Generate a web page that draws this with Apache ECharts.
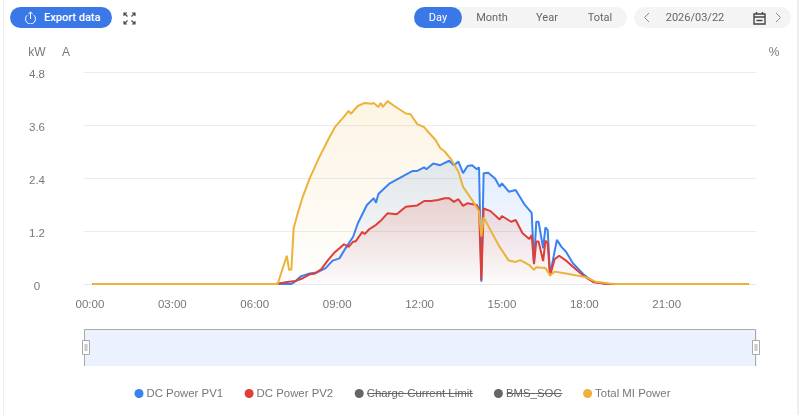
<!DOCTYPE html>
<html>
<head>
<meta charset="utf-8">
<title>Daily power</title>
<script src="https://cdn.jsdelivr.net/npm/echarts@6/dist/echarts.min.js"></script>
<style>
  html, body { margin: 0; padding: 0; background: #fff; }
  #page { position: relative; width: 800px; height: 415px; overflow: hidden; font-family: Roboto, sans-serif; }
  #chart { position: absolute; left: 0; top: 0; width: 800px; height: 415px; }
  .edge { position: absolute; top: 0; bottom: 0; background: #efefef; }
  .pill { position: absolute; top: 7px; height: 21px; line-height: 21px; border-radius: 11px; font-size: 11px; text-align: center; color: #666; }
  .bg { background: #f4f4f4; }
  .blue { background: #3b78e7; color: #fff; }
  .t { position: absolute; top: 7px; height: 21px; line-height: 21px; font-size: 11px; color: #666; text-align: center; }
  svg { position: absolute; }
</style>
</head>
<body>
<div id="page">
  <div id="chart"></div>
  <div class="edge" style="left:3px;width:1px"></div>
  <div class="edge" style="left:797px;width:2px"></div>

  <div class="pill blue" style="left:10px;width:102px;text-align:left;padding-left:34px;box-sizing:border-box;font-weight:500">Export data</div>
  <svg style="left:24px;top:11px" width="13" height="13" viewBox="0 0 13 13" fill="none" stroke="#fff" stroke-width="1">
    <path d="M6.5 8V1M4.3 3.2 6.5 1l2.2 2.2M3.2 4.2a5 5 0 1 0 6.6 0"/>
  </svg>
  <svg style="left:122px;top:11px" width="15" height="15" viewBox="0 0 15 15" fill="none" stroke="#444" stroke-width="1.1">
    <path d="M2 5V2h3M2 2l3.5 3.5M13 5V2h-3M13 2 9.5 5.5M2 10v3h3M2 13l3.5-3.5M13 10v3h-3M13 13 9.5 9.5"/>
  </svg>

  <div class="pill bg" style="left:414px;width:213px"></div>
  <div class="pill blue" style="left:414px;width:48px">Day</div>
  <div class="t" style="left:468px;width:48px">Month</div>
  <div class="t" style="left:523px;width:48px">Year</div>
  <div class="t" style="left:576px;width:48px">Total</div>

  <div class="pill bg" style="left:634px;width:157px"></div>
  <svg style="left:643px;top:12px" width="7" height="11" viewBox="0 0 7 11" fill="none" stroke="#888" stroke-width="1"><path d="M6 1 1.5 5.5 6 10"/></svg>
  <div class="t" style="left:660px;width:70px">2026/03/22</div>
  <svg style="left:753px;top:11px" width="13" height="14" viewBox="0 0 13 14" fill="none" stroke="#444" stroke-width="1.4">
    <path d="M1 3h11v10H1zM1 6h11M3.5 1v2M9.5 1v2M3.5 9.5h6"/>
  </svg>
  <svg style="left:775px;top:12px" width="7" height="11" viewBox="0 0 7 11" fill="none" stroke="#888" stroke-width="1"><path d="M1 1l4.5 4.5L1 10"/></svg>
</div>
<script>
  // minutes since midnight, kW
  var pv1Times = [5, 440, 445, 460, 480, 495, 515, 530, 545, 560, 575, 585, 605, 620, 625, 630, 655, 675, 705, 715, 730, 735, 750, 765, 785, 795, 805, 815, 825, 835, 845, 850, 855, 860, 870, 885, 895, 900, 915, 930, 950, 965, 970, 975, 980, 990, 995, 1000, 1005, 1020, 1030, 1040, 1055, 1080, 1100, 1115, 1130, 1439];
  var pv1Values = [0, 0, 0.03, 0.17, 0.24, 0.26, 0.36, 0.53, 0.58, 0.84, 1.07, 1.37, 1.79, 1.94, 1.84, 2.04, 2.28, 2.39, 2.56, 2.56, 2.64, 2.60, 2.73, 2.69, 2.79, 2.69, 2.77, 2.51, 2.67, 2.69, 2.60, 2.64, 0.05, 2.51, 2.52, 2.39, 2.20, 2.28, 2.09, 2.13, 1.79, 1.61, 0.47, 1.41, 1.41, 0.81, 1.28, 1.22, 0.20, 1.00, 0.84, 0.73, 0.47, 0.20, 0.05, 0.02, 0, 0];

  var pv2Times = [5, 405, 435, 450, 465, 480, 490, 505, 520, 535, 555, 565, 575, 580, 595, 600, 610, 625, 635, 650, 670, 690, 715, 730, 745, 760, 775, 785, 795, 805, 815, 825, 845, 850, 855, 860, 875, 895, 900, 920, 930, 945, 960, 965, 970, 975, 980, 990, 995, 1000, 1005, 1015, 1025, 1040, 1055, 1080, 1100, 1115, 1130, 1439];
  var pv2Values = [0, 0, 0.05, 0.07, 0.13, 0.22, 0.23, 0.33, 0.54, 0.72, 0.90, 0.84, 0.96, 0.96, 1.18, 1.13, 1.24, 1.34, 1.43, 1.60, 1.58, 1.75, 1.78, 1.88, 1.88, 1.90, 1.94, 1.94, 1.86, 1.92, 1.77, 1.83, 1.79, 1.68, 0.09, 1.71, 1.65, 1.46, 1.54, 1.41, 1.45, 1.15, 1.02, 1.11, 0.45, 0.96, 0.96, 0.52, 0.98, 0.92, 0.18, 0.56, 0.64, 0.53, 0.39, 0.17, 0.04, 0.02, 0, 0];

  var miTimes = [5, 410, 430, 435, 440, 445, 455, 465, 480, 500, 520, 535, 555, 565, 570, 585, 600, 615, 620, 630, 635, 640, 650, 665, 690, 700, 715, 730, 740, 755, 765, 775, 790, 805, 815, 835, 850, 855, 860, 875, 895, 915, 930, 940, 960, 970, 975, 995, 1005, 1015, 1040, 1085, 1105, 1135, 1150, 1439];
  var miValues = [0, 0, 0.64, 0.32, 0.32, 1.26, 1.64, 1.98, 2.39, 2.85, 3.26, 3.55, 3.79, 3.92, 3.85, 4.03, 4.10, 4.08, 4.10, 4.01, 4.10, 4.01, 4.14, 4.03, 3.86, 3.85, 3.62, 3.55, 3.43, 3.26, 3.08, 3.00, 2.81, 2.54, 2.20, 1.90, 1.64, 1.07, 1.51, 1.22, 0.84, 0.53, 0.50, 0.54, 0.43, 0.32, 0.38, 0.36, 0.20, 0.28, 0.24, 0.15, 0.05, 0.01, 0, 0];

  var legendNames = ["DC Power PV1", "DC Power PV2", "Charge Current Limit", "BMS_SOC", "Total MI Power"];
  var tickMinutes = [0, 180, 360, 540, 720, 900, 1080, 1260];
  var powerTicks = [0, 1.2, 2.4, 3.6, 4.8];

  function pairs(times, values) {
    return times.map(function (t, i) { return [t, values[i]]; });
  }

  function fmtTime(m) {
    var h = Math.floor(m / 60), mm = m % 60;
    return (h < 10 ? "0" : "") + h + ":" + (mm < 10 ? "0" : "") + mm;
  }

  function area(r, g, b, a) {
    return {
      color: new echarts.graphic.LinearGradient(0, 0, 0, 1, [
        { offset: 0, color: "rgba(" + r + "," + g + "," + b + "," + a + ")" },
        { offset: 1, color: "rgba(" + r + "," + g + "," + b + ",0.01)" }
      ])
    };
  }

  function lineSeries(name, data, color, areaStyle) {
    return {
      name: name,
      type: "line",
      data: data,
      yAxisIndex: 0,
      symbol: "none",
      lineStyle: { width: 2, color: color },
      itemStyle: { color: color },
      areaStyle: areaStyle
    };
  }

  function unitAxis(name, position, offset) {
    return {
      type: "value",
      name: name,
      position: position,
      offset: offset,
      min: 0,
      max: 100,
      nameGap: 13,
      nameTextStyle: { color: grey, fontSize: 12, align: "center" },
      axisLine: { show: false },
      axisTick: { show: false },
      axisLabel: { show: false },
      splitLine: { show: false }
    };
  }

  var grey = "#777";
  // the power scale carries the ticks, its unit sits on the axis next to it
  var kwAxis = unitAxis("", "left", 47);
  kwAxis.max = 4.8;
  kwAxis.interval = 1.2;
  kwAxis.axisLabel = {
    show: true,
    color: grey,
    fontSize: 11.5,
    margin: 0,
    align: "center",
    verticalAlign: "top",
    lineHeight: 6,
    customValues: powerTicks,
    formatter: function (v) { return v === 0 ? "0" : v.toFixed(1); }
  };
  kwAxis.splitLine = { show: true, lineStyle: { color: "#ececec" } };

  var chart = echarts.init(document.getElementById("chart"));
  chart.setOption({
    animation: false,
    textStyle: { fontFamily: "'Liberation Sans', sans-serif" },
    grid: { left: 84, right: 44, top: 72, height: 212 },
    legend: {
      left: 134.5,
      top: 388,
      padding: 0,
      icon: "circle",
      itemWidth: 9,
      itemHeight: 9,
      itemGap: 21.5,
      textStyle: { fontSize: 11.4, color: grey, padding: [0, 0, 0, -2] },
      inactiveColor: "#666",
      data: legendNames,
      selected: { "Charge Current Limit": false, "BMS_SOC": false }
    },
    xAxis: {
      type: "value",
      min: -13,
      max: 1455,
      splitLine: { show: false },
      axisLine: { show: true, onZero: false, lineStyle: { color: "#e8e8e8" } },
      axisTick: { show: false },
      axisLabel: {
        color: grey,
        fontSize: 11.5,
        margin: 15,
        customValues: tickMinutes,
        formatter: fmtTime
      }
    },
    yAxis: [kwAxis, unitAxis("kW", "left", 47), unitAxis("A", "left", 18), unitAxis("%", "right", 18)],
    dataZoom: [{
      type: "slider",
      xAxisIndex: 0,
      filterMode: "none",
      start: 0,
      end: 100,
      left: 84,
      right: 44,
      top: 329,
      height: 37,
      showDetail: false,
      showDataShadow: false,
      moveHandleSize: 0,
      brushSelect: false,
      backgroundColor: "transparent",
      borderColor: "transparent",
      fillerColor: "#ebf1fd",
      handleSize: 14,
      handleIcon: "path://M-4,-8H4V8H-4ZM-1,-4V4M1,-4V4",
      handleStyle: { color: "#fff", borderColor: "#aaa", borderWidth: 1 }
    }],
    graphic: [
      // slider frame: the bottom edge stays open
      { type: "polyline", z: 3, zlevel: 1, silent: true, shape: { points: [[84.5, 341], [84.5, 329.5], [755.5, 329.5], [755.5, 341]] }, style: { stroke: "#aaa", lineWidth: 1, fill: null } },
      { type: "line", zlevel: 1, silent: true, shape: { x1: 84.5, y1: 355, x2: 84.5, y2: 366 }, style: { stroke: "#aaa", lineWidth: 1 } },
      { type: "line", zlevel: 1, silent: true, shape: { x1: 755.5, y1: 355, x2: 755.5, y2: 366 }, style: { stroke: "#aaa", lineWidth: 1 } },
      // the two switched-off legend entries are struck through
      { type: "line", silent: true, shape: { x1: 367, y1: 393.5, x2: 473, y2: 393.5 }, style: { stroke: "#666", lineWidth: 1 } },
      { type: "line", silent: true, shape: { x1: 506.5, y1: 393.5, x2: 562.5, y2: 393.5 }, style: { stroke: "#666", lineWidth: 1 } }
    ],
    series: [
      lineSeries(legendNames[0], pairs(pv1Times, pv1Values), "#3b82f0", area(59, 130, 240, 0.22)),
      lineSeries(legendNames[1], pairs(pv2Times, pv2Values), "#de3e35", area(222, 62, 53, 0.25)),
      lineSeries(legendNames[2], [], "#666"),
      lineSeries(legendNames[3], [], "#666"),
      lineSeries(legendNames[4], pairs(miTimes, miValues), "#ecb33b", area(236, 179, 59, 0.2))
    ]
  });
</script>
</body>
</html>
